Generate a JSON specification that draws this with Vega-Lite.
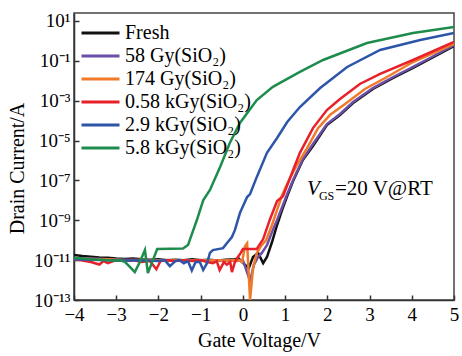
{
  "$schema": "https://vega.github.io/schema/vega-lite/v6.json",
  "width": 380,
  "height": 287,
  "autosize": {"type": "none"},
  "padding": {"left": 74, "top": 13, "right": 8, "bottom": 56},
  "background": "white",
  "config": {
    "view": {"stroke": "#444444", "strokeWidth": 1.5},
    "font": "Liberation Serif",
    "axis": {"grid": false, "domainColor": "#333333", "domainWidth": 1.5, "tickColor": "#333333", "tickWidth": 1.5, "labelColor": "black", "titleColor": "black", "labelFont": "Liberation Serif", "titleFont": "Liberation Serif", "titleFontWeight": "normal", "labelFlush": false}
  },
  "data": {"values": [
    {"s":"Fresh","vg":-4.0,"id":1.8e-11},{"s":"Fresh","vg":-3.8,"id":1.6e-11},{"s":"Fresh","vg":-3.6,"id":1.5e-11},{"s":"Fresh","vg":-3.4,"id":1.35e-11},{"s":"Fresh","vg":-3.2,"id":1.3e-11},{"s":"Fresh","vg":-3.0,"id":1.2e-11},{"s":"Fresh","vg":-2.8,"id":1.15e-11},{"s":"Fresh","vg":-2.6,"id":1.2e-11},{"s":"Fresh","vg":-2.4,"id":1.1e-11},{"s":"Fresh","vg":-2.2,"id":1.05e-11},{"s":"Fresh","vg":-2.0,"id":1.1e-11},{"s":"Fresh","vg":-1.8,"id":1.0e-11},{"s":"Fresh","vg":-1.6,"id":1.05e-11},{"s":"Fresh","vg":-1.4,"id":1.0e-11},{"s":"Fresh","vg":-1.2,"id":1.1e-11},{"s":"Fresh","vg":-1.0,"id":1.0e-11},{"s":"Fresh","vg":-0.8,"id":1.05e-11},{"s":"Fresh","vg":-0.6,"id":9.5e-12},{"s":"Fresh","vg":-0.4,"id":1.05e-11},{"s":"Fresh","vg":-0.2,"id":1.1e-11},{"s":"Fresh","vg":-0.1,"id":1.2e-11},{"s":"Fresh","vg":-0.02,"id":8e-12},{"s":"Fresh","vg":0.14,"id":4e-12},{"s":"Fresh","vg":0.24,"id":1.43e-11},{"s":"Fresh","vg":0.36,"id":2.3e-11},{"s":"Fresh","vg":0.48,"id":7.1e-12},{"s":"Fresh","vg":0.57,"id":1.43e-11},{"s":"Fresh","vg":0.69,"id":8.1e-11},{"s":"Fresh","vg":0.81,"id":5.8e-10},{"s":"Fresh","vg":0.93,"id":3.3e-9},{"s":"Fresh","vg":1.05,"id":1.64e-8},{"s":"Fresh","vg":1.19,"id":9.3e-8},{"s":"Fresh","vg":1.42,"id":1.05e-6},{"s":"Fresh","vg":1.66,"id":5.3e-6},{"s":"Fresh","vg":1.99,"id":6.0e-5},{"s":"Fresh","vg":2.30,"id":1.9e-4},{"s":"Fresh","vg":2.61,"id":7.6e-4},{"s":"Fresh","vg":3.08,"id":3.85e-3},{"s":"Fresh","vg":3.56,"id":0.0137},{"s":"Fresh","vg":4.03,"id":0.0435},{"s":"Fresh","vg":4.43,"id":0.123},{"s":"Fresh","vg":5.0,"id":0.55},

    {"s":"58 Gy(SiO₂)","vg":-4.0,"id":1.25e-11},{"s":"58 Gy(SiO₂)","vg":-3.6,"id":1.2e-11},{"s":"58 Gy(SiO₂)","vg":-3.2,"id":1.1e-11},{"s":"58 Gy(SiO₂)","vg":-2.8,"id":1.05e-11},{"s":"58 Gy(SiO₂)","vg":-2.4,"id":1.0e-11},{"s":"58 Gy(SiO₂)","vg":-2.0,"id":1.0e-11},{"s":"58 Gy(SiO₂)","vg":-1.6,"id":9.5e-12},{"s":"58 Gy(SiO₂)","vg":-1.2,"id":1.0e-11},{"s":"58 Gy(SiO₂)","vg":-0.8,"id":9.5e-12},{"s":"58 Gy(SiO₂)","vg":-0.4,"id":1.0e-11},{"s":"58 Gy(SiO₂)","vg":-0.15,"id":9e-12},{"s":"58 Gy(SiO₂)","vg":0.0,"id":1.0e-11},{"s":"58 Gy(SiO₂)","vg":0.17,"id":8.9e-13},{"s":"58 Gy(SiO₂)","vg":0.26,"id":5.7e-12},{"s":"58 Gy(SiO₂)","vg":0.36,"id":1.43e-11},{"s":"58 Gy(SiO₂)","vg":0.45,"id":2.3e-11},{"s":"58 Gy(SiO₂)","vg":0.57,"id":5.7e-11},{"s":"58 Gy(SiO₂)","vg":0.69,"id":2.6e-10},{"s":"58 Gy(SiO₂)","vg":0.81,"id":1.03e-9},{"s":"58 Gy(SiO₂)","vg":1.05,"id":2.07e-8},{"s":"58 Gy(SiO₂)","vg":1.19,"id":1.04e-7},{"s":"58 Gy(SiO₂)","vg":1.42,"id":1.18e-6},{"s":"58 Gy(SiO₂)","vg":1.66,"id":6.7e-6},{"s":"58 Gy(SiO₂)","vg":1.99,"id":6.7e-5},{"s":"58 Gy(SiO₂)","vg":2.30,"id":2.14e-4},{"s":"58 Gy(SiO₂)","vg":2.61,"id":8.5e-4},{"s":"58 Gy(SiO₂)","vg":3.08,"id":4.3e-3},{"s":"58 Gy(SiO₂)","vg":3.56,"id":0.0154},{"s":"58 Gy(SiO₂)","vg":4.03,"id":0.049},{"s":"58 Gy(SiO₂)","vg":4.43,"id":0.138},{"s":"58 Gy(SiO₂)","vg":5.0,"id":0.62},

    {"s":"174 Gy(SiO₂)","vg":-4.0,"id":1.2e-11},{"s":"174 Gy(SiO₂)","vg":-3.6,"id":1.15e-11},{"s":"174 Gy(SiO₂)","vg":-3.2,"id":1.1e-11},{"s":"174 Gy(SiO₂)","vg":-2.8,"id":1.0e-11},{"s":"174 Gy(SiO₂)","vg":-2.4,"id":1.05e-11},{"s":"174 Gy(SiO₂)","vg":-2.0,"id":9.5e-12},{"s":"174 Gy(SiO₂)","vg":-1.6,"id":1.0e-11},{"s":"174 Gy(SiO₂)","vg":-1.2,"id":9.5e-12},{"s":"174 Gy(SiO₂)","vg":-0.8,"id":1.0e-11},{"s":"174 Gy(SiO₂)","vg":-0.4,"id":9.5e-12},{"s":"174 Gy(SiO₂)","vg":-0.1,"id":1.0e-11},{"s":"174 Gy(SiO₂)","vg":-0.02,"id":8e-12},{"s":"174 Gy(SiO₂)","vg":0.05,"id":5e-11},{"s":"174 Gy(SiO₂)","vg":0.10,"id":7e-11},{"s":"174 Gy(SiO₂)","vg":0.17,"id":1e-13},{"s":"174 Gy(SiO₂)","vg":0.24,"id":4e-12},{"s":"174 Gy(SiO₂)","vg":0.33,"id":2.3e-11},{"s":"174 Gy(SiO₂)","vg":0.43,"id":5.1e-11},{"s":"174 Gy(SiO₂)","vg":0.55,"id":1.0e-10},{"s":"174 Gy(SiO₂)","vg":0.69,"id":5.8e-10},{"s":"174 Gy(SiO₂)","vg":0.81,"id":3.3e-9},{"s":"174 Gy(SiO₂)","vg":0.93,"id":1.85e-8},{"s":"174 Gy(SiO₂)","vg":1.07,"id":8.3e-8},{"s":"174 Gy(SiO₂)","vg":1.28,"id":5.9e-7},{"s":"174 Gy(SiO₂)","vg":1.52,"id":4.2e-6},{"s":"174 Gy(SiO₂)","vg":1.78,"id":4.2e-5},{"s":"174 Gy(SiO₂)","vg":2.06,"id":1.9e-4},{"s":"174 Gy(SiO₂)","vg":2.42,"id":6.8e-4},{"s":"174 Gy(SiO₂)","vg":2.89,"id":3.85e-3},{"s":"174 Gy(SiO₂)","vg":3.37,"id":0.0137},{"s":"174 Gy(SiO₂)","vg":4.03,"id":0.087},{"s":"174 Gy(SiO₂)","vg":5.0,"id":0.70},

    {"s":"0.58 kGy(SiO₂)","vg":-4.0,"id":1.1e-11},{"s":"0.58 kGy(SiO₂)","vg":-3.8,"id":9.5e-12},{"s":"0.58 kGy(SiO₂)","vg":-3.6,"id":8e-12},{"s":"0.58 kGy(SiO₂)","vg":-3.4,"id":6e-12},{"s":"0.58 kGy(SiO₂)","vg":-3.3,"id":9e-12},{"s":"0.58 kGy(SiO₂)","vg":-3.2,"id":7e-12},{"s":"0.58 kGy(SiO₂)","vg":-3.0,"id":1.0e-11},{"s":"0.58 kGy(SiO₂)","vg":-2.8,"id":9e-12},{"s":"0.58 kGy(SiO₂)","vg":-2.6,"id":1.0e-11},{"s":"0.58 kGy(SiO₂)","vg":-2.4,"id":8e-12},{"s":"0.58 kGy(SiO₂)","vg":-2.2,"id":9e-12},{"s":"0.58 kGy(SiO₂)","vg":-2.05,"id":3.5e-12},{"s":"0.58 kGy(SiO₂)","vg":-1.95,"id":9e-12},{"s":"0.58 kGy(SiO₂)","vg":-1.8,"id":1.0e-11},{"s":"0.58 kGy(SiO₂)","vg":-1.6,"id":9e-12},{"s":"0.58 kGy(SiO₂)","vg":-1.4,"id":1.0e-11},{"s":"0.58 kGy(SiO₂)","vg":-1.2,"id":9e-12},{"s":"0.58 kGy(SiO₂)","vg":-1.0,"id":1.0e-11},{"s":"0.58 kGy(SiO₂)","vg":-0.85,"id":8e-12},{"s":"0.58 kGy(SiO₂)","vg":-0.71,"id":7e-12},{"s":"0.58 kGy(SiO₂)","vg":-0.62,"id":9e-12},{"s":"0.58 kGy(SiO₂)","vg":-0.55,"id":3.2e-12},{"s":"0.58 kGy(SiO₂)","vg":-0.45,"id":8e-12},{"s":"0.58 kGy(SiO₂)","vg":-0.38,"id":6e-12},{"s":"0.58 kGy(SiO₂)","vg":-0.3,"id":8e-12},{"s":"0.58 kGy(SiO₂)","vg":-0.26,"id":2.5e-12},{"s":"0.58 kGy(SiO₂)","vg":-0.19,"id":8e-12},{"s":"0.58 kGy(SiO₂)","vg":-0.12,"id":1.4e-11},{"s":"0.58 kGy(SiO₂)","vg":-0.05,"id":2.3e-11},{"s":"0.58 kGy(SiO₂)","vg":0.0,"id":3.6e-11},{"s":"0.58 kGy(SiO₂)","vg":0.33,"id":3.6e-11},{"s":"0.58 kGy(SiO₂)","vg":0.48,"id":1.14e-10},{"s":"0.58 kGy(SiO₂)","vg":0.64,"id":1.1e-9},{"s":"0.58 kGy(SiO₂)","vg":0.81,"id":9.2e-9},{"s":"0.58 kGy(SiO₂)","vg":0.95,"id":1.6e-8},{"s":"0.58 kGy(SiO₂)","vg":1.19,"id":3.3e-7},{"s":"0.58 kGy(SiO₂)","vg":1.35,"id":2.4e-6},{"s":"0.58 kGy(SiO₂)","vg":1.66,"id":4.2e-5},{"s":"0.58 kGy(SiO₂)","vg":1.99,"id":3.4e-4},{"s":"0.58 kGy(SiO₂)","vg":2.30,"id":1.2e-3},{"s":"0.58 kGy(SiO₂)","vg":2.77,"id":6.9e-3},{"s":"0.58 kGy(SiO₂)","vg":3.25,"id":0.022},{"s":"0.58 kGy(SiO₂)","vg":4.03,"id":0.11},{"s":"0.58 kGy(SiO₂)","vg":5.0,"id":0.88},

    {"s":"2.9 kGy(SiO₂)","vg":-4.0,"id":1.1e-11},{"s":"2.9 kGy(SiO₂)","vg":-3.6,"id":1.05e-11},{"s":"2.9 kGy(SiO₂)","vg":-3.2,"id":1.0e-11},{"s":"2.9 kGy(SiO₂)","vg":-2.8,"id":9.5e-12},{"s":"2.9 kGy(SiO₂)","vg":-2.4,"id":1.0e-11},{"s":"2.9 kGy(SiO₂)","vg":-2.0,"id":9e-12},{"s":"2.9 kGy(SiO₂)","vg":-1.85,"id":1.0e-11},{"s":"2.9 kGy(SiO₂)","vg":-1.73,"id":5e-12},{"s":"2.9 kGy(SiO₂)","vg":-1.6,"id":9e-12},{"s":"2.9 kGy(SiO₂)","vg":-1.5,"id":1.0e-11},{"s":"2.9 kGy(SiO₂)","vg":-1.4,"id":7e-12},{"s":"2.9 kGy(SiO₂)","vg":-1.3,"id":9e-12},{"s":"2.9 kGy(SiO₂)","vg":-1.21,"id":3e-12},{"s":"2.9 kGy(SiO₂)","vg":-1.12,"id":8e-12},{"s":"2.9 kGy(SiO₂)","vg":-1.02,"id":8e-12},{"s":"2.9 kGy(SiO₂)","vg":-0.94,"id":3.2e-12},{"s":"2.9 kGy(SiO₂)","vg":-0.85,"id":7e-12},{"s":"2.9 kGy(SiO₂)","vg":-0.78,"id":2.3e-11},{"s":"2.9 kGy(SiO₂)","vg":-0.71,"id":3.2e-11},{"s":"2.9 kGy(SiO₂)","vg":-0.47,"id":4.0e-11},{"s":"2.9 kGy(SiO₂)","vg":-0.38,"id":7e-11},{"s":"2.9 kGy(SiO₂)","vg":-0.26,"id":1.44e-10},{"s":"2.9 kGy(SiO₂)","vg":-0.19,"id":3.2e-10},{"s":"2.9 kGy(SiO₂)","vg":-0.07,"id":2.3e-9},{"s":"2.9 kGy(SiO₂)","vg":0.10,"id":1.47e-8},{"s":"2.9 kGy(SiO₂)","vg":0.17,"id":2.07e-8},{"s":"2.9 kGy(SiO₂)","vg":0.33,"id":1.5e-7},{"s":"2.9 kGy(SiO₂)","vg":0.57,"id":2.4e-6},{"s":"2.9 kGy(SiO₂)","vg":0.81,"id":1.34e-5},{"s":"2.9 kGy(SiO₂)","vg":1.05,"id":8.5e-5},{"s":"2.9 kGy(SiO₂)","vg":1.35,"id":4.8e-4},{"s":"2.9 kGy(SiO₂)","vg":1.83,"id":4.3e-3},{"s":"2.9 kGy(SiO₂)","vg":2.47,"id":0.049},{"s":"2.9 kGy(SiO₂)","vg":3.25,"id":0.35},{"s":"2.9 kGy(SiO₂)","vg":4.20,"id":1.1},{"s":"2.9 kGy(SiO₂)","vg":5.0,"id":2.5},

    {"s":"5.8 kGy(SiO₂)","vg":-4.0,"id":1.3e-11},{"s":"5.8 kGy(SiO₂)","vg":-3.8,"id":1.2e-11},{"s":"5.8 kGy(SiO₂)","vg":-3.6,"id":1.1e-11},{"s":"5.8 kGy(SiO₂)","vg":-3.4,"id":1.05e-11},{"s":"5.8 kGy(SiO₂)","vg":-3.2,"id":1.0e-11},{"s":"5.8 kGy(SiO₂)","vg":-3.0,"id":9.5e-12},{"s":"5.8 kGy(SiO₂)","vg":-2.9,"id":1.0e-11},{"s":"5.8 kGy(SiO₂)","vg":-2.79,"id":8e-12},{"s":"5.8 kGy(SiO₂)","vg":-2.67,"id":4.5e-12},{"s":"5.8 kGy(SiO₂)","vg":-2.56,"id":2.5e-12},{"s":"5.8 kGy(SiO₂)","vg":-2.44,"id":8e-12},{"s":"5.8 kGy(SiO₂)","vg":-2.32,"id":3.2e-11},{"s":"5.8 kGy(SiO₂)","vg":-2.25,"id":2.25e-12},{"s":"5.8 kGy(SiO₂)","vg":-2.13,"id":1.0e-11},{"s":"5.8 kGy(SiO₂)","vg":-2.03,"id":3.6e-11},{"s":"5.8 kGy(SiO₂)","vg":-1.7,"id":3.7e-11},{"s":"5.8 kGy(SiO₂)","vg":-1.42,"id":3.8e-11},{"s":"5.8 kGy(SiO₂)","vg":-1.30,"id":5.7e-11},{"s":"5.8 kGy(SiO₂)","vg":-1.09,"id":1.03e-9},{"s":"5.8 kGy(SiO₂)","vg":-0.94,"id":1.0e-8},{"s":"5.8 kGy(SiO₂)","vg":-0.78,"id":3.3e-8},{"s":"5.8 kGy(SiO₂)","vg":-0.54,"id":4.7e-7},{"s":"5.8 kGy(SiO₂)","vg":-0.31,"id":7.6e-6},{"s":"5.8 kGy(SiO₂)","vg":-0.07,"id":7.6e-5},{"s":"5.8 kGy(SiO₂)","vg":0.33,"id":1.07e-3},{"s":"5.8 kGy(SiO₂)","vg":0.71,"id":4.9e-3},{"s":"5.8 kGy(SiO₂)","vg":1.35,"id":0.0275},{"s":"5.8 kGy(SiO₂)","vg":1.90,"id":0.11},{"s":"5.8 kGy(SiO₂)","vg":2.94,"id":0.78},{"s":"5.8 kGy(SiO₂)","vg":4.03,"id":2.5},{"s":"5.8 kGy(SiO₂)","vg":5.0,"id":5.0}
  ]},
  "layer": [
    {
      "mark": {"type": "line", "strokeWidth": 2.5, "clip": true},
      "encoding": {
        "x": {"field": "vg", "type": "quantitative",
          "scale": {"domain": [-4, 5], "nice": false, "zero": false},
          "axis": {"title": "Gate Voltage/V", "values": [-4,-3,-2,-1,0,1,2,3,4,5], "format": "d", "tickSize": -5, "labelPadding": 10, "labelFontSize": 19, "titleFontSize": 20, "titlePadding": 6, "titleX": 185}},
        "y": {"field": "id", "type": "quantitative",
          "scale": {"type": "log", "domain": [1e-13, 25], "nice": false},
          "axis": {"title": "Drain Current/A", "values": [1e-13,1e-11,1e-9,1e-7,1e-5,1e-3,1e-1,10], "tickSize": -5, "labelPadding": 9, "labelFontSize": 19, "titleFontSize": 20, "titlePadding": 6, "titleY": 155,
            "labelExpr": "round(log(datum.value)/LN10) == 1 ? '10¹' : round(log(datum.value)/LN10) == -1 ? '10⁻¹' : round(log(datum.value)/LN10) == -3 ? '10⁻³' : round(log(datum.value)/LN10) == -5 ? '10⁻⁵' : round(log(datum.value)/LN10) == -7 ? '10⁻⁷' : round(log(datum.value)/LN10) == -9 ? '10⁻⁹' : round(log(datum.value)/LN10) == -11 ? '10⁻¹¹' : '10⁻¹³'"}},
        "color": {"field": "s", "type": "nominal",
          "scale": {"domain": ["Fresh","58 Gy(SiO₂)","174 Gy(SiO₂)","0.58 kGy(SiO₂)","2.9 kGy(SiO₂)","5.8 kGy(SiO₂)"],
                    "range": ["#111111","#6a4fa8","#f07a2a","#e8202a","#2d55a8","#1d8c4c"]},
          "legend": {"title": null, "orient": "none", "legendX": 6, "legendY": 10, "padding": 0, "symbolType": "stroke", "symbolSize": 1444, "symbolStrokeWidth": 3, "labelFontSize": 20, "labelFont": "Liberation Serif", "labelColor": "black", "clipHeight": 20, "rowPadding": 3, "labelOffset": 4}}
      }
    },
    {
      "data": {"values": [{}]},
      "mark": {"type": "text", "font": "Liberation Serif", "fontSize": 21, "fontStyle": "italic", "align": "left", "baseline": "alphabetic", "color": "black"},
      "encoding": {"x": {"datum": 1.52}, "y": {"datum": 1.85e-8}, "text": {"value": "V"}}
    },
    {
      "data": {"values": [{}]},
      "mark": {"type": "text", "font": "Liberation Serif", "fontSize": 12, "align": "left", "baseline": "alphabetic", "color": "black"},
      "encoding": {"x": {"datum": 1.80}, "y": {"datum": 1.05e-8}, "text": {"value": "GS"}}
    },
    {
      "data": {"values": [{}]},
      "mark": {"type": "text", "font": "Liberation Serif", "fontSize": 21, "align": "left", "baseline": "alphabetic", "color": "black"},
      "encoding": {"x": {"datum": 2.18}, "y": {"datum": 1.85e-8}, "text": {"value": "=20 V@RT"}}
    }
  ]
}
